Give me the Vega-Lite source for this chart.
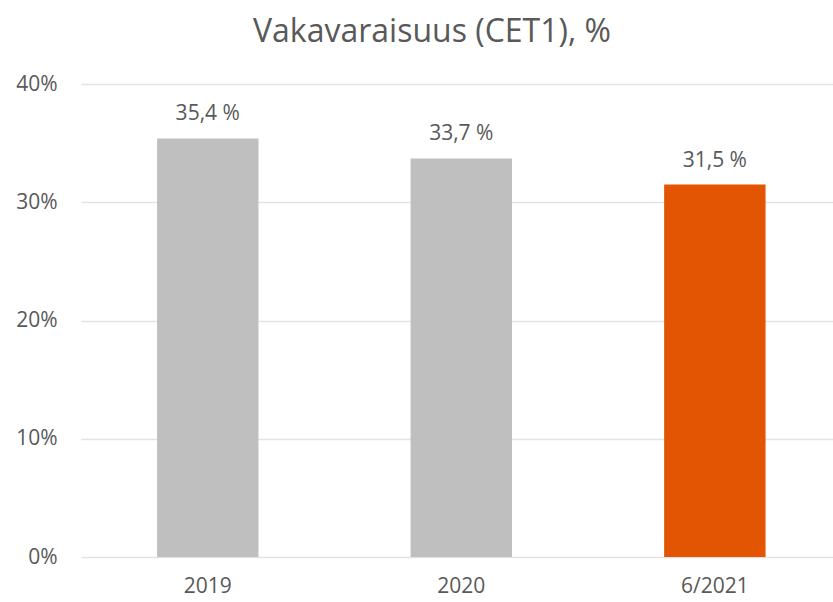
{
  "$schema": "https://vega.github.io/schema/vega-lite/v6.json",
  "autosize": "none",
  "width": 752,
  "height": 473,
  "padding": {"left": 81, "top": 84, "right": 0, "bottom": 45},
  "background": "white",
  "title": {
    "text": "Vakavaraisuus (CET1), %",
    "font": "Open Sans",
    "fontSize": 32,
    "fontWeight": "normal",
    "color": "#595959",
    "anchor": "middle",
    "dx": -25,
    "offset": 24
  },
  "data": {
    "values": [
      {"period": "2019", "value": 35.4, "label": "35,4 %", "highlight": "no"},
      {"period": "2020", "value": 33.7, "label": "33,7 %", "highlight": "no"},
      {"period": "6/2021", "value": 31.5, "label": "31,5 %", "highlight": "yes"}
    ]
  },
  "encoding": {
    "x": {
      "field": "period",
      "type": "nominal",
      "sort": null,
      "scale": {"paddingInner": 0.6, "paddingOuter": 0.283, "align": 0.53},
      "axis": {
        "title": null,
        "labelAngle": 0,
        "domain": false,
        "ticks": false,
        "labelFont": "Open Sans",
        "labelFontSize": 21,
        "labelColor": "#595959",
        "labelPadding": 18
      }
    },
    "y": {
      "field": "value",
      "type": "quantitative",
      "scale": {"domain": [0, 40]},
      "axis": {
        "title": null,
        "values": [0, 10, 20, 30, 40],
        "labelExpr": "datum.value + '%'",
        "domain": false,
        "ticks": false,
        "labelFont": "Open Sans",
        "labelFontSize": 21,
        "labelColor": "#595959",
        "labelPadding": 24,
        "gridColor": "#e3e3e3",
        "gridWidth": 1.5
      }
    }
  },
  "layer": [
    {
      "mark": {"type": "bar"},
      "encoding": {
        "color": {
          "field": "highlight",
          "type": "nominal",
          "scale": {"domain": ["no", "yes"], "range": ["#bfbfbf", "#e35502"]},
          "legend": null
        }
      }
    },
    {
      "mark": {
        "type": "text",
        "baseline": "bottom",
        "dy": -14,
        "font": "Open Sans",
        "fontSize": 21,
        "color": "#595959"
      },
      "encoding": {"text": {"field": "label", "type": "nominal"}}
    }
  ],
  "config": {"view": {"stroke": null}}
}
